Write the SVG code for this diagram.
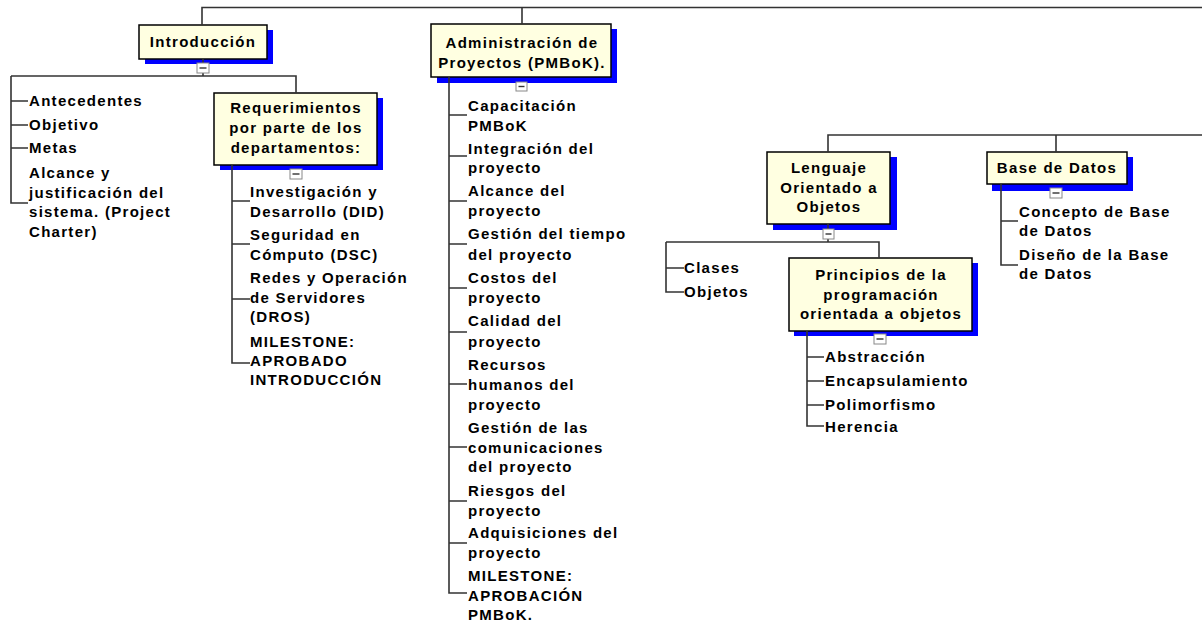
<svg xmlns="http://www.w3.org/2000/svg" width="1202" height="623" viewBox="0 0 1202 623">
<style>
.bg{fill:#ffffff}
.box{fill:#ffffe1;stroke:#000;stroke-width:1.5}
.sh{fill:#0000ff}
.ln{fill:none;stroke:#333;stroke-width:1.6}
.tg rect{fill:#fff;stroke:#888;stroke-width:1}
.tg path{stroke:#333;stroke-width:1.4}
text{font-family:"Liberation Sans",Arial,sans-serif;font-weight:bold;font-size:15px;letter-spacing:1.3px;fill:#000}
.c{text-anchor:middle}
</style>
<rect class="bg" x="0" y="0" width="1202" height="623"/>

<g id="node-introduccion">
<rect class="sh" x="145" y="30" width="128" height="34"/>
<rect class="box" x="139" y="25" width="128" height="34"/>
<text class="c" x="203" y="47">Introducción</text>
</g>
<g id="node-requerimientos">
<rect class="sh" x="220" y="98" width="163" height="72"/>
<rect class="box" x="214" y="93" width="163" height="72"/>
<text class="c" x="296" y="113">Requerimientos</text>
<text class="c" x="296" y="133">por parte de los</text>
<text class="c" x="296" y="153">departamentos:</text>
</g>
<g id="node-administracion">
<rect class="sh" x="437" y="29" width="180" height="54"/>
<rect class="box" x="431" y="24" width="180" height="53"/>
<text class="c" x="522" y="48">Administración de</text>
<text class="c" x="522" y="68">Proyectos (PMBoK).</text>
</g>
<g id="node-lenguaje">
<rect class="sh" x="773" y="157" width="124" height="73"/>
<rect class="box" x="767" y="152" width="123" height="72"/>
<text class="c" x="829" y="173">Lenguaje</text>
<text class="c" x="829" y="193">Orientado a</text>
<text class="c" x="829" y="212">Objetos</text>
</g>
<g id="node-principios">
<rect class="sh" x="794" y="263" width="184" height="73"/>
<rect class="box" x="789" y="258" width="183" height="73"/>
<text class="c" x="881" y="280">Principios de la</text>
<text class="c" x="881" y="300">programación</text>
<text class="c" x="881" y="319">orientada a objetos</text>
</g>
<g id="node-basedatos">
<rect class="sh" x="992" y="157" width="141" height="34"/>
<rect class="box" x="987" y="152" width="140" height="32"/>
<text class="c" x="1057" y="173">Base de Datos</text>
</g>

<g id="connectors">
<path class="ln" d="M202,25 V7.5 H1202"/>
<path class="ln" d="M522,7.5 V24"/>
<path class="ln" d="M828,152 V135 H1202"/>
<path class="ln" d="M1056,135 V152"/>
<path class="ln" d="M203,59 V76"/>
<path class="ln" d="M11,76 H296 V93"/>
<path class="ln" d="M11,76 V203 H28 M11,101 H28 M11,125 H28 M11,148 H28"/>
<path class="ln" d="M232,165 V363 H250 M232,201 H250 M232,244 H250 M232,299 H250"/>
<path class="ln" d="M449,77 V593 H467 M449,115 H467 M449,156 H467 M449,201 H467 M449,244 H467 M449,288 H467 M449,332 H467 M449,384 H467 M449,447 H467 M449,501 H467 M449,543 H467"/>
<path class="ln" d="M828,224 V242"/>
<path class="ln" d="M666,242 H879 V258 M666,242 V292 H684 M666,268 H684"/>
<path class="ln" d="M807,331 V426 H824 M807,357 H824 M807,381 H824 M807,405 H824"/>
<path class="ln" d="M1001,184 V265 H1018 M1001,221 H1018"/>
</g>

<g id="toggles" class="tg">
<rect x="197" y="63" width="12" height="10"/><path d="M199.5,68 H206.5"/>
<rect x="290" y="169" width="12" height="10"/><path d="M292.5,174 H299.5"/>
<rect x="516" y="82" width="11" height="9"/><path d="M518.5,86.5 H524.5"/>
<rect x="823" y="229" width="11" height="10"/><path d="M825.5,234 H831.5"/>
<rect x="874" y="334" width="12" height="10"/><path d="M876.5,339 H883.5"/>
<rect x="1050" y="188" width="12" height="10"/><path d="M1052.5,193 H1059.5"/>
</g>

<g id="leaves-introduccion">
<text x="29" y="106">Antecedentes</text>
<text x="29" y="130">Objetivo</text>
<text x="29" y="153">Metas</text>
<text x="29" y="178">Alcance y</text>
<text x="29" y="198">justificación del</text>
<text x="29" y="217">sistema. (Project</text>
<text x="29" y="237">Charter)</text>
</g>
<g id="leaves-requerimientos">
<text x="250" y="197">Investigación y</text>
<text x="250" y="217">Desarrollo (DID)</text>
<text x="250" y="240">Seguridad en</text>
<text x="250" y="260">Cómputo (DSC)</text>
<text x="250" y="283">Redes y Operación</text>
<text x="250" y="303">de Servidores</text>
<text x="250" y="322">(DROS)</text>
<text x="250" y="347">MILESTONE:</text>
<text x="250" y="366">APROBADO</text>
<text x="250" y="385">INTRODUCCIÓN</text>
</g>
<g id="leaves-administracion">
<text x="468" y="111">Capacitación</text>
<text x="468" y="131">PMBoK</text>
<text x="468" y="154">Integración del</text>
<text x="468" y="173">proyecto</text>
<text x="468" y="196">Alcance del</text>
<text x="468" y="216">proyecto</text>
<text x="468" y="239">Gestión del tiempo</text>
<text x="468" y="260">del proyecto</text>
<text x="468" y="283">Costos del</text>
<text x="468" y="303">proyecto</text>
<text x="468" y="326">Calidad del</text>
<text x="468" y="347">proyecto</text>
<text x="468" y="370">Recursos</text>
<text x="468" y="390">humanos del</text>
<text x="468" y="410">proyecto</text>
<text x="468" y="433">Gestión de las</text>
<text x="468" y="453">comunicaciones</text>
<text x="468" y="472">del proyecto</text>
<text x="468" y="496">Riesgos del</text>
<text x="468" y="516">proyecto</text>
<text x="468" y="538">Adquisiciones del</text>
<text x="468" y="558">proyecto</text>
<text x="468" y="581">MILESTONE:</text>
<text x="468" y="601">APROBACIÓN</text>
<text x="468" y="620">PMBoK.</text>
</g>
<g id="leaves-lenguaje">
<text x="684" y="273">Clases</text>
<text x="684" y="297">Objetos</text>
</g>
<g id="leaves-principios">
<text x="825" y="362">Abstracción</text>
<text x="825" y="386">Encapsulamiento</text>
<text x="825" y="410">Polimorfismo</text>
<text x="825" y="432">Herencia</text>
</g>
<g id="leaves-basedatos">
<text x="1019" y="217">Concepto de Base</text>
<text x="1019" y="236">de Datos</text>
<text x="1019" y="260">Diseño de la Base</text>
<text x="1019" y="279">de Datos</text>
</g>
</svg>
